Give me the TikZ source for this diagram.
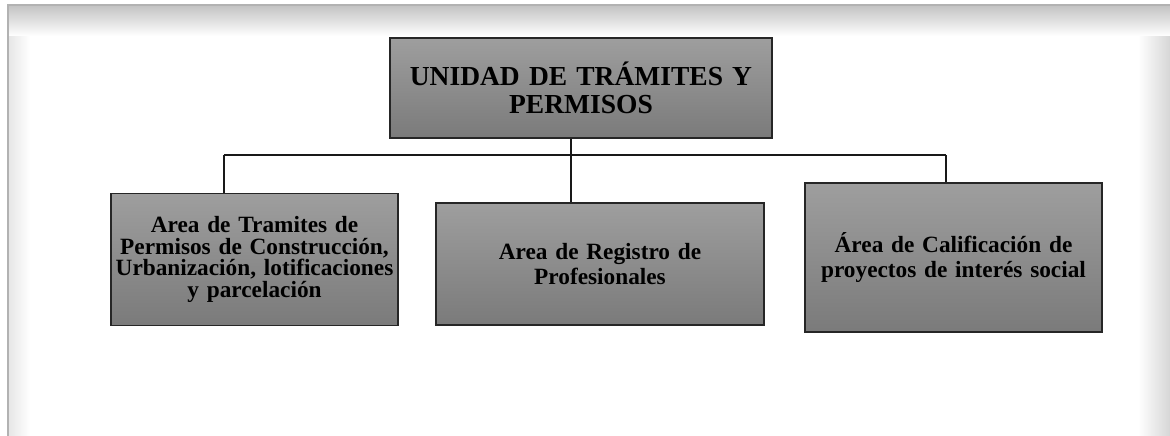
\documentclass[tikz,border=0pt]{standalone}
\usepackage{fontspec}
\setmainfont{Liberation Serif}
\usetikzlibrary{positioning,calc}

\tikzset{
  unitbox/.style={draw=black!85, line width=1.6pt, top color=black!38, bottom color=black!52,
    align=center, inner sep=1pt, font=\bfseries},
  link/.style={draw=black!90, line width=1.4pt}
}

\begin{document}
\begin{tikzpicture}[x=1pt, y=-1pt]
\useasboundingbox (0,0) rectangle (1170,436);
% page frame with soft shadow
\fill[white] (0,0) rectangle (1170,436);
\shade[left color=black!10, right color=white] (8,5) rectangle (30,436);
\shade[left color=white, right color=black!16] (1138,5) rectangle (1170,436);
\shade[top color=black!24, bottom color=white] (8,5) rectangle (1170,36);
\draw[black!30, line width=1.2pt] (8,436) -- (8,5) -- (1170,5);

% boxes
\node[unitbox, minimum width=382pt, minimum height=100pt, text width=376pt,
  font=\bfseries\fontsize{27.5}{28.5}\selectfont] (unidad) at (581,88)
  {UNIDAD DE TRÁMITES Y\\PERMISOS};
\node[unitbox, minimum width=287pt, minimum height=132pt, text width=283pt,
  font=\bfseries\fontsize{23.3}{21.8}\selectfont] (tramites) at (254.5,259.5)
  {Area de Tramites de\\Permisos de Construcción,\\Urbanización, lotificaciones\\y parcelación};
\node[unitbox, minimum width=328pt, minimum height=122pt, text width=320pt,
  font=\bfseries\fontsize{23.3}{25}\selectfont] (registro) at (600,264)
  {Area de Registro de\\Profesionales};
\node[unitbox, minimum width=297pt, minimum height=149pt, text width=292pt,
  font=\bfseries\fontsize{23.3}{25}\selectfont] (calif) at (953.5,257.5)
  {Área de Calificación de\\proyectos de interés social};

% connectors
\coordinate (bus) at (571,155);
\coordinate (busL) at (224,155);
\coordinate (busR) at (946,155);
\draw[link] (busL) -- (busR);
\draw[link] (unidad.south -| bus) -- (registro.north -| bus);
\draw[link] (busL) -- (busL |- tramites.north);
\draw[link] (busR) -- (busR |- calif.north);
\end{tikzpicture}
\end{document}
